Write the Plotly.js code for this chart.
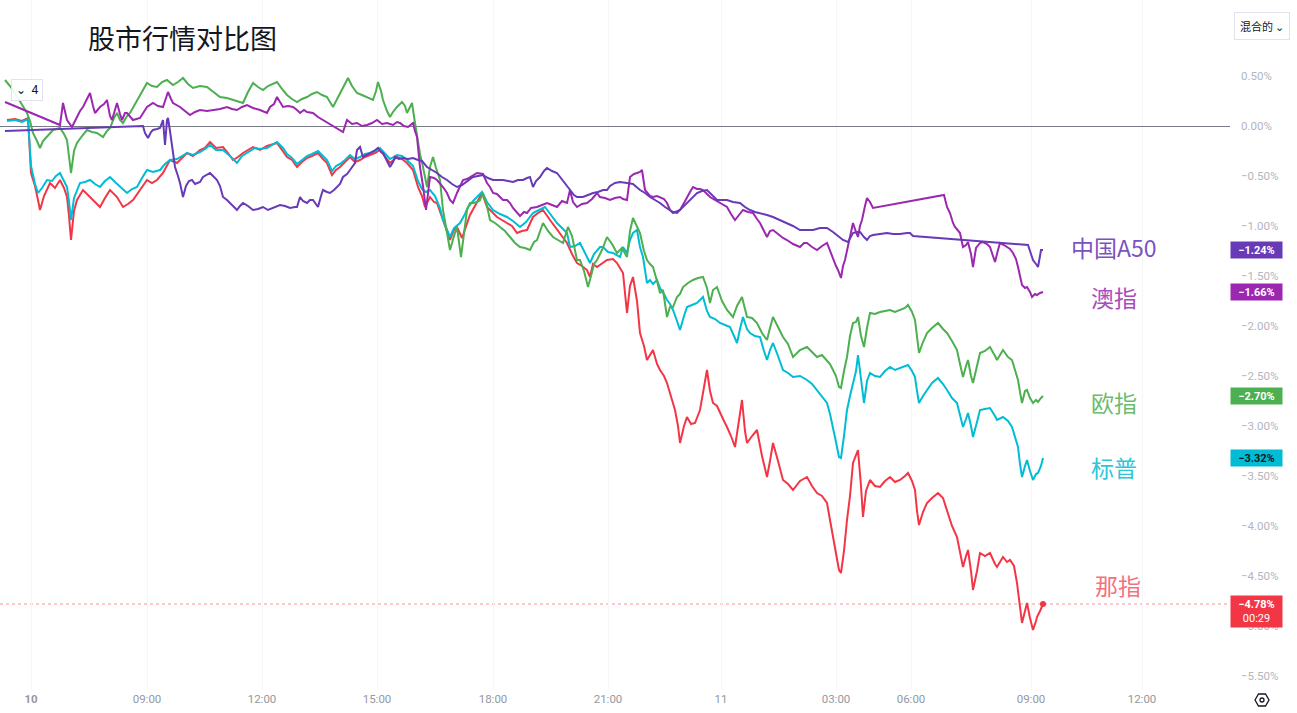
<!DOCTYPE html>
<html>
<head>
<meta charset="utf-8">
<script src="https://cdn.plot.ly/plotly-3.0.1.min.js"></script>
<style>html,body{margin:0;padding:0;background:#fff;}#chart{width:1297px;height:713px;}</style>
</head>
<body>
<div id="chart"></div>
<script>
// ---- DATA (x = bar index on the session time axis, y = % change) ----
const seriesNames = ["中国A50", "澳指", "欧指", "标普", "那指"];
const tickBars = [31, 147, 262, 377, 493, 608, 721, 836, 911, 1031, 1142];
const tickLabels = ["<b>10</b>", "09:00", "12:00", "15:00", "18:00", "21:00", "11", "03:00", "06:00", "09:00", "12:00"];
const pctTicks = [0.5, 0, -0.5, -1, -1.5, -2, -2.5, -3, -3.5, -4, -4.5, -5, -5.5];
const lastTime = "00:29";

const nasdaqIdx = [7,15,22,28,31,35,38,40,44,50,55,60,64,67,69,71,74,77,83,90,95,100,105,110,117,123,128,133,140,147,152,157,163,170,177,187,193,200,205,210,216,223,228,233,238,243,253,260,267,277,282,287,292,297,302,307,312,318,323,327,332,336,340,345,350,355,360,365,370,375,380,385,390,397,402,407,413,418,422,425,430,434,437,443,447,450,454,457,462,466,470,476,482,487,492,497,502,507,512,517,522,527,533,538,543,550,557,562,567,572,577,582,587,590,593,597,603,607,613,617,623,627,630,633,637,640,644,647,653,657,660,664,667,671,675,678,680,684,687,691,695,700,704,707,710,713,717,720,724,727,731,735,738,742,745,747,752,757,762,767,770,773,778,783,788,793,800,807,812,817,822,827,830,833,836,839,841,844,847,850,853,856,858,861,863,866,870,875,880,885,890,895,900,905,908,912,915,917,919,923,927,932,938,943,947,952,957,960,963,966,968,971,973,977,980,985,990,995,997,1003,1007,1010,1014,1017,1020,1022,1025,1027,1030,1033,1036,1037,1040,1043];
const nasdaqPct = [0.06,0.07,0.05,0.08,-0.47,-0.60,-0.74,-0.84,-0.70,-0.57,-0.62,-0.54,-0.62,-0.71,-0.90,-1.14,-0.85,-0.74,-0.64,-0.71,-0.76,-0.81,-0.72,-0.64,-0.71,-0.81,-0.78,-0.74,-0.64,-0.54,-0.57,-0.54,-0.47,-0.34,-0.37,-0.27,-0.30,-0.24,-0.22,-0.16,-0.22,-0.21,-0.27,-0.34,-0.31,-0.27,-0.21,-0.24,-0.20,-0.17,-0.24,-0.31,-0.34,-0.41,-0.36,-0.32,-0.30,-0.27,-0.33,-0.37,-0.49,-0.44,-0.41,-0.36,-0.31,-0.36,-0.34,-0.31,-0.29,-0.27,-0.24,-0.30,-0.37,-0.31,-0.33,-0.37,-0.44,-0.61,-0.70,-0.81,-0.71,-0.76,-0.77,-0.94,-1.05,-1.14,-1.04,-1.01,-1.12,-1.00,-0.89,-0.78,-0.67,-0.81,-0.86,-0.91,-0.94,-0.97,-1.00,-1.07,-1.05,-1.04,-0.91,-0.87,-0.84,-0.94,-1.04,-1.10,-1.17,-1.28,-1.37,-1.40,-1.44,-1.51,-1.38,-1.41,-1.37,-1.34,-1.33,-1.37,-1.47,-1.87,-1.60,-1.51,-1.75,-2.07,-2.20,-2.34,-2.24,-2.38,-2.44,-2.50,-2.57,-2.70,-2.84,-3.00,-3.17,-3.00,-2.91,-2.98,-2.97,-2.84,-2.60,-2.44,-2.65,-2.77,-2.80,-2.87,-2.95,-3.01,-3.10,-3.21,-3.00,-2.74,-3.05,-3.17,-3.10,-3.04,-3.30,-3.51,-3.35,-3.17,-3.35,-3.54,-3.58,-3.64,-3.55,-3.51,-3.60,-3.67,-3.70,-3.77,-3.94,-4.11,-4.25,-4.44,-4.47,-4.25,-3.94,-3.70,-3.37,-3.30,-3.24,-3.60,-3.91,-3.65,-3.54,-3.60,-3.61,-3.55,-3.51,-3.56,-3.54,-3.50,-3.47,-3.55,-3.64,-3.85,-3.99,-3.86,-3.77,-3.72,-3.67,-3.72,-3.84,-4.00,-4.11,-4.25,-4.41,-4.30,-4.24,-4.45,-4.64,-4.45,-4.27,-4.30,-4.27,-4.38,-4.41,-4.31,-4.36,-4.34,-4.40,-4.57,-4.80,-4.97,-4.85,-4.77,-4.92,-5.04,-4.95,-4.91,-4.85,-4.78];

const spxIdx = [7,15,22,28,31,35,38,42,47,52,56,60,64,67,69,71,74,80,85,90,95,100,105,110,115,120,127,132,137,142,147,153,160,165,170,177,187,193,200,205,210,216,223,230,237,242,247,255,260,267,277,283,287,292,297,302,307,312,318,323,327,332,336,340,345,350,355,360,365,370,375,380,385,390,397,402,407,413,418,422,426,430,435,440,443,447,450,454,460,465,468,474,482,487,493,500,507,513,520,526,533,539,545,551,557,562,567,570,575,580,585,590,594,600,603,608,613,620,623,627,630,633,637,640,643,647,650,653,657,660,664,667,670,673,677,680,684,687,692,697,700,703,707,710,715,720,725,730,734,737,740,743,747,750,755,760,764,767,770,773,778,783,788,793,800,807,812,817,822,827,830,833,836,839,841,844,847,850,853,856,858,861,864,867,870,875,880,885,890,895,900,905,908,912,915,917,919,923,927,932,938,943,947,952,957,960,963,966,968,971,973,977,980,985,990,995,997,1003,1008,1012,1015,1018,1020,1022,1025,1027,1030,1033,1036,1038,1041,1043];
const spxPct = [0.05,0.06,0.04,0.07,-0.40,-0.58,-0.67,-0.62,-0.54,-0.55,-0.50,-0.47,-0.55,-0.61,-0.75,-0.94,-0.72,-0.57,-0.56,-0.54,-0.58,-0.61,-0.55,-0.51,-0.56,-0.61,-0.67,-0.63,-0.61,-0.52,-0.44,-0.46,-0.44,-0.38,-0.34,-0.33,-0.27,-0.29,-0.26,-0.23,-0.19,-0.24,-0.24,-0.30,-0.37,-0.30,-0.27,-0.22,-0.23,-0.22,-0.16,-0.22,-0.28,-0.32,-0.38,-0.34,-0.30,-0.28,-0.25,-0.30,-0.34,-0.45,-0.40,-0.38,-0.34,-0.29,-0.33,-0.31,-0.28,-0.27,-0.25,-0.22,-0.27,-0.33,-0.29,-0.30,-0.34,-0.40,-0.55,-0.63,-0.66,-0.64,-0.70,-0.82,-0.94,-1.03,-1.11,-1.02,-0.97,-0.88,-0.81,-0.74,-0.66,-0.76,-0.84,-0.88,-0.91,-0.95,-1.01,-0.96,-0.87,-0.84,-0.81,-0.89,-0.97,-1.02,-1.07,-1.21,-1.20,-1.17,-1.27,-1.37,-1.28,-1.21,-1.21,-1.26,-1.27,-1.31,-1.21,-1.27,-1.14,-1.07,-1.04,-1.21,-1.31,-1.57,-1.54,-1.58,-1.54,-1.62,-1.68,-1.74,-1.78,-1.84,-1.95,-2.04,-1.90,-1.81,-1.79,-1.77,-1.74,-1.71,-1.85,-1.91,-1.93,-1.97,-1.99,-2.01,-2.10,-2.17,-2.03,-1.91,-2.03,-2.07,-2.10,-2.11,-2.25,-2.34,-2.24,-2.17,-2.30,-2.44,-2.47,-2.51,-2.50,-2.54,-2.58,-2.64,-2.70,-2.77,-2.88,-3.04,-3.16,-3.31,-3.32,-3.10,-2.84,-2.70,-2.57,-2.45,-2.29,-2.55,-2.77,-2.55,-2.47,-2.50,-2.51,-2.45,-2.41,-2.44,-2.42,-2.40,-2.39,-2.45,-2.51,-2.65,-2.77,-2.70,-2.64,-2.57,-2.52,-2.58,-2.64,-2.72,-2.77,-2.88,-3.01,-2.93,-2.87,-3.00,-3.11,-2.96,-2.84,-2.83,-2.82,-2.90,-2.94,-2.91,-2.95,-3.01,-3.10,-3.21,-3.38,-3.51,-3.40,-3.34,-3.45,-3.54,-3.48,-3.47,-3.40,-3.32];

const euroIdx = [5,10,18,27,30,33,37,40,43,47,53,60,64,67,69,71,74,77,82,87,92,97,103,107,110,114,117,120,123,127,130,134,137,142,147,152,157,162,167,173,178,183,188,193,200,207,213,220,227,233,238,243,248,253,258,263,268,277,282,287,292,297,302,307,312,317,322,327,333,338,342,345,348,352,357,362,367,373,376,378,381,383,387,390,393,397,402,405,407,410,412,415,418,420,423,426,427,430,433,436,440,443,447,450,454,457,461,464,467,470,473,477,480,483,487,490,495,500,505,510,515,520,525,530,534,537,540,543,548,553,558,563,568,572,577,580,584,588,591,594,597,602,607,612,617,622,627,630,633,637,640,644,647,650,653,657,660,663,667,670,673,677,680,683,688,693,698,703,707,710,713,717,722,727,733,737,742,745,747,752,757,762,767,770,773,778,783,788,793,800,807,812,817,822,827,830,833,836,839,841,844,847,850,853,856,858,861,864,867,870,875,880,885,890,895,900,905,908,912,915,917,919,923,927,932,938,943,947,952,957,960,963,966,968,971,973,977,980,985,990,995,997,1003,1008,1012,1015,1018,1020,1022,1025,1027,1030,1033,1036,1038,1041,1043];
const euroPct = [0.46,0.40,0.28,0.13,0.05,-0.07,-0.15,-0.22,-0.15,-0.11,-0.04,-0.02,-0.08,-0.14,-0.30,-0.47,-0.25,-0.17,-0.10,-0.04,-0.06,-0.07,-0.11,-0.05,-0.02,0.08,0.13,0.06,0.03,0.10,0.13,0.20,0.26,0.35,0.43,0.40,0.39,0.44,0.46,0.41,0.44,0.48,0.42,0.38,0.40,0.39,0.34,0.29,0.28,0.26,0.25,0.23,0.34,0.43,0.39,0.36,0.40,0.44,0.37,0.31,0.27,0.24,0.27,0.29,0.32,0.34,0.31,0.29,0.19,0.29,0.36,0.43,0.48,0.40,0.33,0.31,0.29,0.26,0.35,0.44,0.35,0.26,0.15,0.09,0.14,0.19,0.24,0.20,0.13,0.20,0.23,0.03,-0.17,-0.28,-0.41,-0.55,-0.61,-0.41,-0.31,-0.42,-0.54,-0.84,-1.05,-1.24,-1.10,-1.01,-1.31,-1.10,-0.84,-0.77,-0.77,-0.76,-0.74,-0.67,-0.80,-0.94,-0.97,-1.01,-1.05,-1.11,-1.17,-1.21,-1.22,-1.24,-1.16,-1.14,-1.05,-0.97,-1.05,-1.11,-1.14,-1.17,-1.01,-1.10,-1.34,-1.34,-1.45,-1.61,-1.50,-1.38,-1.34,-1.24,-1.11,-1.18,-1.27,-1.22,-1.31,-1.05,-0.92,-1.00,-1.07,-1.25,-1.34,-1.38,-1.41,-1.55,-1.67,-1.64,-1.91,-1.81,-1.81,-1.71,-1.68,-1.61,-1.57,-1.54,-1.52,-1.51,-1.62,-1.77,-1.64,-1.61,-1.75,-1.84,-1.91,-1.80,-1.71,-1.83,-1.91,-1.92,-1.97,-2.07,-2.14,-2.02,-1.91,-2.01,-2.11,-2.18,-2.31,-2.24,-2.21,-2.26,-2.31,-2.29,-2.34,-2.38,-2.44,-2.50,-2.61,-2.62,-2.45,-2.31,-2.10,-1.97,-1.96,-1.91,-2.10,-2.21,-2.02,-1.87,-1.88,-1.86,-1.85,-1.84,-1.86,-1.84,-1.82,-1.79,-1.86,-1.94,-2.12,-2.27,-2.16,-2.07,-2.02,-1.97,-2.03,-2.07,-2.15,-2.24,-2.38,-2.51,-2.40,-2.34,-2.50,-2.57,-2.40,-2.27,-2.25,-2.21,-2.30,-2.34,-2.24,-2.31,-2.34,-2.45,-2.54,-2.66,-2.77,-2.65,-2.64,-2.72,-2.77,-2.74,-2.76,-2.72,-2.70];

const ausIdx = [5,60,63,67,72,77,80,83,87,90,93,95,100,104,107,110,112,115,117,120,122,125,127,133,140,147,153,158,163,166,168,171,173,180,185,190,195,200,207,213,220,227,232,237,242,247,253,260,267,270,274,277,280,283,288,293,297,300,304,307,313,318,343,347,352,357,362,367,372,377,382,387,393,397,400,404,408,413,415,417,420,423,426,430,434,437,443,447,450,453,457,460,463,467,470,473,477,483,487,490,493,497,500,503,507,510,513,517,520,524,527,531,537,542,547,552,557,562,567,570,573,577,582,587,592,597,600,605,610,615,620,623,627,630,634,637,640,642,645,650,653,657,660,664,667,670,673,677,680,684,687,690,693,697,700,703,707,710,715,720,724,727,731,735,739,743,748,753,757,760,764,767,770,773,778,783,787,793,800,804,807,812,817,822,827,830,833,836,838,841,843,845,848,850,853,856,858,860,862,865,867,870,873,944,947,950,953,955,958,960,963,966,968,971,973,976,980,983,987,990,993,995,998,1000,1004,1007,1010,1013,1016,1018,1020,1022,1025,1027,1030,1032,1035,1037,1040,1043];
const ausPct = [0.24,0.01,0.23,0.06,-0.01,0.09,0.15,0.19,0.27,0.33,0.20,0.13,0.19,0.22,0.26,0.10,0.06,0.18,0.23,0.12,0.06,0.13,0.13,0.06,0.08,0.19,0.23,0.20,0.19,0.28,0.34,0.27,0.23,0.19,0.15,0.11,0.14,0.16,0.15,0.16,0.17,0.19,0.17,0.16,0.19,0.21,0.18,0.16,0.13,0.19,0.22,0.29,0.24,0.19,0.20,0.19,0.16,0.13,0.16,0.14,0.13,0.09,-0.06,0.06,0.02,0.03,0.00,0.01,0.03,0.06,0.02,0.03,0.01,0.04,0.03,0.00,-0.01,0.03,-0.05,-0.11,-0.41,-0.60,-0.84,-0.51,-0.52,-0.54,-0.61,-0.67,-0.74,-0.77,-0.67,-0.60,-0.54,-0.53,-0.51,-0.49,-0.47,-0.48,-0.57,-0.61,-0.67,-0.68,-0.71,-0.74,-0.74,-0.77,-0.82,-0.86,-0.90,-0.86,-0.87,-0.82,-0.81,-0.79,-0.77,-0.79,-0.81,-0.75,-0.77,-0.64,-0.76,-0.81,-0.78,-0.77,-0.73,-0.67,-0.71,-0.72,-0.74,-0.72,-0.71,-0.73,-0.74,-0.51,-0.48,-0.47,-0.46,-0.44,-0.64,-0.70,-0.71,-0.70,-0.71,-0.73,-0.77,-0.84,-0.87,-0.85,-0.84,-0.77,-0.71,-0.66,-0.61,-0.63,-0.63,-0.64,-0.68,-0.71,-0.74,-0.77,-0.79,-0.81,-0.88,-0.94,-0.89,-0.84,-0.86,-0.87,-0.93,-0.97,-1.05,-1.11,-1.05,-1.04,-1.08,-1.12,-1.14,-1.18,-1.21,-1.17,-1.17,-1.21,-1.24,-1.20,-1.17,-1.25,-1.31,-1.40,-1.44,-1.52,-1.40,-1.34,-1.20,-1.11,-0.97,-1.06,-1.11,-1.00,-0.94,-0.80,-0.72,-0.76,-0.82,-0.69,-0.81,-0.87,-0.97,-1.01,-1.04,-1.07,-1.21,-1.19,-1.16,-1.28,-1.41,-1.22,-1.17,-1.16,-1.18,-1.21,-1.30,-1.36,-1.24,-1.17,-1.19,-1.21,-1.23,-1.27,-1.33,-1.41,-1.50,-1.59,-1.62,-1.61,-1.66,-1.71,-1.68,-1.69,-1.67,-1.66];

const a50Idx = [5,143,145,148,151,153,157,160,163,165,167,168,170,172,175,178,180,183,186,189,192,195,197,200,203,207,210,213,217,220,223,227,230,234,237,240,243,248,253,258,263,268,273,277,280,285,290,295,297,300,303,307,310,313,316,318,321,323,327,330,334,337,340,343,347,350,353,355,357,360,363,367,370,374,378,381,383,387,390,393,395,399,403,408,413,418,422,427,432,437,442,447,452,457,462,467,473,478,483,488,493,498,503,508,513,518,523,527,530,533,536,540,544,547,552,557,560,563,567,570,574,577,583,588,593,598,603,607,610,615,620,627,633,640,645,650,655,660,665,670,673,677,682,687,692,697,702,707,712,717,722,727,733,740,745,750,755,760,767,773,780,787,793,800,807,813,820,827,833,838,843,848,851,853,857,860,864,867,870,873,880,887,893,900,907,910,913,1028,1031,1033,1036,1038,1040,1041,1043];
const a50Pct = [-0.05,0.00,-0.07,-0.12,-0.06,-0.04,-0.03,-0.02,0.06,-0.19,0.06,0.08,-0.05,-0.21,-0.41,-0.50,-0.57,-0.71,-0.60,-0.55,-0.54,-0.58,-0.57,-0.56,-0.51,-0.49,-0.47,-0.50,-0.54,-0.60,-0.71,-0.74,-0.77,-0.80,-0.84,-0.80,-0.77,-0.80,-0.84,-0.83,-0.81,-0.84,-0.82,-0.81,-0.79,-0.80,-0.82,-0.81,-0.81,-0.71,-0.75,-0.77,-0.74,-0.74,-0.78,-0.81,-0.70,-0.64,-0.66,-0.67,-0.64,-0.61,-0.58,-0.51,-0.48,-0.44,-0.40,-0.37,-0.24,-0.21,-0.31,-0.29,-0.27,-0.25,-0.22,-0.26,-0.27,-0.35,-0.41,-0.36,-0.31,-0.33,-0.32,-0.33,-0.32,-0.34,-0.35,-0.41,-0.44,-0.47,-0.51,-0.54,-0.58,-0.61,-0.59,-0.55,-0.51,-0.50,-0.49,-0.52,-0.54,-0.54,-0.54,-0.55,-0.56,-0.54,-0.54,-0.52,-0.51,-0.61,-0.55,-0.51,-0.45,-0.42,-0.45,-0.47,-0.51,-0.54,-0.60,-0.64,-0.69,-0.71,-0.71,-0.69,-0.67,-0.66,-0.64,-0.64,-0.60,-0.57,-0.56,-0.57,-0.58,-0.64,-0.67,-0.71,-0.74,-0.77,-0.81,-0.84,-0.86,-0.87,-0.82,-0.77,-0.71,-0.67,-0.65,-0.64,-0.69,-0.74,-0.74,-0.74,-0.76,-0.77,-0.81,-0.84,-0.86,-0.87,-0.89,-0.91,-0.94,-0.97,-1.00,-1.04,-1.04,-1.04,-1.02,-1.02,-1.06,-1.10,-1.14,-1.16,-1.10,-1.07,-1.06,-1.06,-1.11,-1.14,-1.10,-1.09,-1.08,-1.07,-1.08,-1.08,-1.07,-1.07,-1.10,-1.19,-1.28,-1.34,-1.38,-1.41,-1.30,-1.24,-1.24];

// ---- STYLE ----
const colors = {"中国A50": "#673AB7", "澳指": "#9C27B0", "欧指": "#4CAF50", "标普": "#00BCD4", "那指": "#F23645"};
const labelColors = {"中国A50": "#7A52C2", "澳指": "#A94BBD", "欧指": "#6DBB70", "标普": "#2EC6DA", "那指": "#F4717E"};
const seriesData = {
  "中国A50": [a50Idx, a50Pct],
  "澳指": [ausIdx, ausPct],
  "欧指": [euroIdx, euroPct],
  "标普": [spxIdx, spxPct],
  "那指": [nasdaqIdx, nasdaqPct]
};

const W = 1297, H = 713, ML = 0, MR = 67, MT = 0, MB = 23;
const plotW = W - ML - MR, plotH = H - MT - MB;
const yTopPct = 1.26, yBotPct = -5.64;
const paperX = px => (px - ML) / plotW;
const paperY = py => (plotH + MT - py) / plotH;
const fmtPct = v => (v < 0 ? "\u2212" : "") + Math.abs(v).toFixed(2) + "%";

const traces = [];
const drawOrder = ["那指", "标普", "欧指", "澳指", "中国A50"];
drawOrder.forEach(n => {
  traces.push({
    type: "scatter", mode: "lines", name: n,
    x: seriesData[n][0], y: seriesData[n][1],
    line: {color: colors[n], width: 2}, hoverinfo: "skip"
  });
});
// end dot of the main series
traces.push({
  type: "scatter", mode: "markers",
  x: [nasdaqIdx[nasdaqIdx.length - 1]], y: [nasdaqPct[nasdaqPct.length - 1]],
  marker: {color: colors["那指"], size: 6}, hoverinfo: "skip"
});

const annotations = [];
// series name labels on the right
const nameLabelPos = {
  "中国A50": {x: 1114, y: -1.21},
  "澳指": {x: 1114, y: -1.71},
  "欧指": {x: 1114, y: -2.76},
  "标普": {x: 1114, y: -3.41},
  "那指": {x: 1118, y: -4.59}
};
seriesNames.forEach(n => {
  annotations.push({
    xref: "x", yref: "y", x: nameLabelPos[n].x, y: nameLabelPos[n].y,
    text: n, showarrow: false, xanchor: "center", yanchor: "middle",
    font: {family: "Noto Sans CJK SC, Noto Sans, sans-serif", size: 23, color: labelColors[n]}
  });
});
// price tags on the axis
seriesNames.forEach(n => {
  const ys = seriesData[n][1];
  const last = ys[ys.length - 1];
  const isMain = n === "那指";
  annotations.push({
    xref: "paper", yref: "y", x: paperX(1256.5), y: last,
    yshift: isMain ? -7 : 0,
    text: isMain ? "<b>" + fmtPct(last) + "</b><br>" + lastTime : "<b>" + fmtPct(last) + "</b>",
    showarrow: false, xanchor: "center", yanchor: "middle", align: "center",
    bgcolor: colors[n], borderpad: 1, width: 49, height: isMain ? 29 : 14,
    font: {family: "Roboto, Liberation Sans, sans-serif", size: 11, color: n === "标普" ? "#131722" : "#ffffff"}
  });
});
// top-right mode button
annotations.push({
  xref: "paper", yref: "paper", x: paperX(1262), y: paperY(26),
  text: "混合的 ⌄", showarrow: false, xanchor: "center", yanchor: "middle",
  bordercolor: "#E0E3EB", borderwidth: 1, borderpad: 5, bgcolor: "#ffffff",
  font: {family: "Noto Sans CJK SC, sans-serif", size: 11, color: "#131722"}
});
// collapse button
annotations.push({
  xref: "paper", yref: "paper", x: paperX(27), y: paperY(90.5),
  text: "⌄  4", showarrow: false, xanchor: "center", yanchor: "middle",
  bordercolor: "#E0E3EB", borderwidth: 1, borderpad: 3, bgcolor: "rgba(255,255,255,0.9)",
  width: 24, height: 14,
  font: {family: "Roboto, sans-serif", size: 12, color: "#131722"}
});

const shapes = [
  {type: "line", xref: "paper", yref: "y", x0: 0, x1: 1, y0: nasdaqPct[nasdaqPct.length - 1], y1: nasdaqPct[nasdaqPct.length - 1],
   line: {color: "rgba(242,54,69,0.55)", width: 1, dash: "dot"}, layer: "below"},
  // settings icon (hexagon + circle)
  {type: "path", xref: "paper", yref: "paper", xsizemode: "pixel", ysizemode: "pixel",
   xanchor: paperX(1262), yanchor: paperY(700),
   path: "M -7 0 L -3.5 6 L 3.5 6 L 7 0 L 3.5 -6 L -3.5 -6 Z",
   line: {color: "#131722", width: 1.3}, fillcolor: "rgba(0,0,0,0)"},
  {type: "circle", xref: "paper", yref: "paper", xsizemode: "pixel", ysizemode: "pixel",
   xanchor: paperX(1262), yanchor: paperY(700), x0: -2, x1: 2, y0: -2, y1: 2,
   line: {color: "#131722", width: 1.3}, fillcolor: "rgba(0,0,0,0)"}
];

const layout = {
  width: W, height: H,
  margin: {l: ML, r: MR, t: MT, b: MB, pad: 0},
  paper_bgcolor: "#ffffff", plot_bgcolor: "#ffffff",
  showlegend: false, hovermode: false,
  title: {
    text: "股市行情对比图", x: 88 / W, xanchor: "left", xref: "container",
    y: 1 - 40 / H, yanchor: "middle", yref: "container",
    font: {family: "Noto Sans CJK SC, sans-serif", size: 27, color: "#131722"}
  },
  xaxis: {
    range: [0, plotW], showgrid: true, gridcolor: "#F5F6F8", gridwidth: 1,
    zeroline: false, showline: false, ticks: "",
    tickmode: "array", tickvals: tickBars, ticktext: tickLabels,
    tickfont: {family: "Roboto, Liberation Sans, sans-serif", size: 11.5, color: "#9598A1"},
    fixedrange: true
  },
  yaxis: {
    side: "right", range: [yBotPct, yTopPct], showgrid: false,
    zeroline: true, zerolinecolor: "#787B86", zerolinewidth: 1,
    showline: false, ticks: "", ticklabelstandoff: 10,
    tickmode: "array", tickvals: pctTicks, ticktext: pctTicks.map(fmtPct),
    tickfont: {family: "Roboto, Liberation Sans, sans-serif", size: 11.5, color: "#B2B5BE"},
    fixedrange: true
  },
  annotations: annotations,
  shapes: shapes
};

Plotly.newPlot("chart", traces, layout, {displayModeBar: false, staticPlot: true});
</script>
</body>
</html>
